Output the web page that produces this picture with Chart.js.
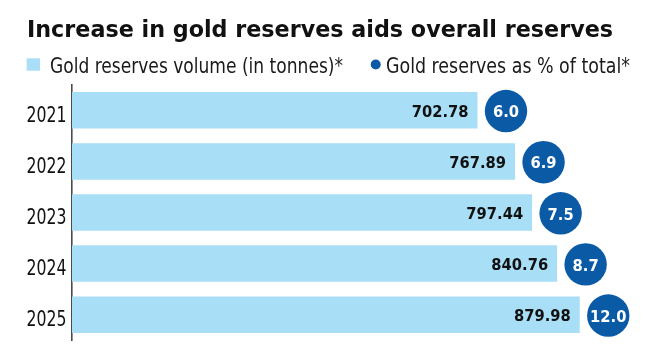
<!DOCTYPE html>
<html>
<head>
<meta charset="utf-8">
<style>
  html, body { margin: 0; padding: 0; background: #ffffff; }
  #wrap { width: 660px; height: 359px; }
</style>
<script src="https://cdn.jsdelivr.net/npm/chart.js@4/dist/chart.umd.min.js"></script>
</head>
<body>
<div id="wrap"><canvas id="c" width="660" height="359"></canvas></div>
<script>
// ---- data ----
const titleText = 'Increase in gold reserves aids overall reserves';
const legendVolume = 'Gold reserves volume (in tonnes)*';
const legendShare = 'Gold reserves as % of total*';
const years = ['2021', '2022', '2023', '2024', '2025'];
const goldVolumeTonnes = [702.78, 767.89, 797.44, 840.76, 879.98];
const goldSharePct = [6.0, 6.9, 7.5, 8.7, 12.0];

// ---- styles ----
const BAR_COLOR = '#a9def7';
const DOT_COLOR = '#0b5aa6';
const NARROW = '"Liberation Sans Narrow", "DejaVu Sans Condensed", "DejaVu Sans", sans-serif';
const BOLD_NUM = '"DejaVu Sans", "Liberation Sans", sans-serif';

function fitText(ctx, text, x, y, targetWidth) {
  const w = ctx.measureText(text).width;
  const s = targetWidth / w;
  ctx.save();
  ctx.translate(x, y);
  ctx.scale(s, 1);
  ctx.fillText(text, 0, 0);
  ctx.restore();
}
function squeezeText(ctx, text, x, y, s, align) {
  const w = ctx.measureText(text).width * s;
  let x0 = x;
  if (align === 'right') x0 = x - w;
  else if (align === 'center') x0 = x - w / 2;
  ctx.save();
  ctx.translate(x0, y);
  ctx.scale(s, 1);
  ctx.textAlign = 'left';
  ctx.fillText(text, 0, 0);
  ctx.restore();
}

const decorPlugin = {
  id: 'decor',
  afterDatasetsDraw(chart) {
    const ctx = chart.ctx;
    const meta = chart.getDatasetMeta(0);
    const yScale = chart.scales.y;
    ctx.save();
    ctx.textBaseline = 'alphabetic';
    // category labels (drawn through the y scale)
    ctx.fillStyle = '#111111';
    ctx.font = '22px "DejaVu Sans", sans-serif';
    years.forEach((yr, i) => {
      const yc = yScale.getPixelForValue(i);
      squeezeText(ctx, yr, 66.5, yc + 11.4, 0.715, 'right');
    });
    meta.data.forEach((bar, i) => {
      const xEnd = bar.x, yc = bar.y;
      // value label inside bar end
      ctx.font = 'bold 16px ' + BOLD_NUM;
      ctx.fillStyle = '#111111';
      squeezeText(ctx, goldVolumeTonnes[i].toFixed(2), xEnd - 9, yc + 6.4, 0.92, 'right');
      // share bubble
      const cx = xEnd + 28.5;
      ctx.beginPath();
      ctx.arc(cx, yc + 0.8, 21.2, 0, Math.PI * 2);
      ctx.fillStyle = DOT_COLOR;
      ctx.fill();
      ctx.fillStyle = '#ffffff';
      squeezeText(ctx, goldSharePct[i].toFixed(1), cx, yc + 7, 0.92, 'center');
    });
    ctx.restore();
  },
  afterDraw(chart) {
    const ctx = chart.ctx;
    ctx.save();
    ctx.textAlign = 'left';
    ctx.textBaseline = 'alphabetic';
    // title
    ctx.fillStyle = '#111111';
    ctx.font = 'bold 23px ' + NARROW;
    fitText(ctx, titleText, 27, 36.7, 586);
    // legend
    ctx.fillStyle = BAR_COLOR;
    ctx.fillRect(26.7, 58.3, 13.3, 12.4);
    ctx.fillStyle = '#1a1a1a';
    ctx.font = '21px ' + NARROW;
    fitText(ctx, legendVolume, 50, 73, 293);
    ctx.beginPath();
    ctx.arc(375.7, 64.5, 5, 0, Math.PI * 2);
    ctx.fillStyle = DOT_COLOR;
    ctx.fill();
    ctx.fillStyle = '#1a1a1a';
    fitText(ctx, legendShare, 386, 73, 244);
    ctx.restore();
  }
};

new Chart(document.getElementById('c'), {
  type: 'bar',
  data: {
    labels: years,
    datasets: [{
      label: legendVolume,
      data: goldVolumeTonnes,
      backgroundColor: BAR_COLOR,
      borderWidth: 0,
      categoryPercentage: 1,
      barPercentage: 0.714
    }]
  },
  options: {
    indexAxis: 'y',
    responsive: false,
    animation: false,
    devicePixelRatio: 1,
    layout: { padding: { top: 84.7, bottom: 18.7, left: 0, right: 11 } },
    plugins: {
      legend: { display: false },
      title: { display: false },
      tooltip: { enabled: false }
    },
    scales: {
      x: { display: false, min: 0, max: 1000 },
      y: {
        z: 1,
        grid: { display: false, drawTicks: false },
        border: { display: true, color: '#4a4a4a', width: 1.6 },
        ticks: { display: false },
        afterFit(scale) { scale.width = 72; }
      }
    }
  },
  plugins: [decorPlugin]
});
</script>
</body>
</html>
